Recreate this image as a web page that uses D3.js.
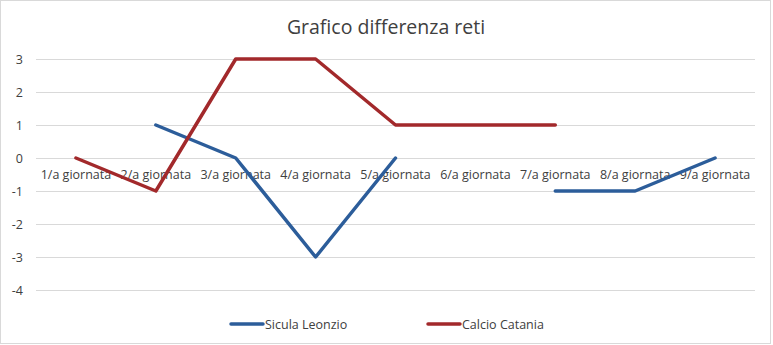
<!doctype html>
<html>
<head>
<meta charset="utf-8">
<script src="https://cdn.jsdelivr.net/npm/d3@7"></script>
<style>
  body { margin: 0; background: #fff; }
  svg text { font-family: "Open Sans", "Noto Sans", sans-serif; }
</style>
</head>
<body>
<svg id="chart" width="773" height="345"></svg>
<script>
  // data
  var categories = ['1/a giornata', '2/a giornata', '3/a giornata', '4/a giornata', '5/a giornata',
    '6/a giornata', '7/a giornata', '8/a giornata', '9/a giornata'];
  var siculaLeonzio = [null, 1, 0, -3, 0, null, -1, -1, 0];
  var calcioCatania = [0, -1, 3, 3, 1, 1, 1, null, null];
  var yTicks = [3, 2, 1, 0, -1, -2, -3, -4];
  var seriesNames = ['Sicula Leonzio', 'Calcio Catania'];
  var seriesColors = ['#2c5d9a', '#a2292b'];

  var svg = d3.select('#chart');
  var textColor = '#404040';

  // chart border
  svg.append('rect')
    .attr('x', 0.5).attr('y', 0.5)
    .attr('width', 770).attr('height', 343)
    .attr('fill', '#fff').attr('stroke', '#d9d9d9');

  svg.append('text')
    .attr('x', 386).attr('y', 34)
    .attr('text-anchor', 'middle')
    .attr('font-size', 19.5)
    .attr('fill', textColor)
    .text('Grafico differenza reti');

  var x = d3.scaleBand().domain(categories).range([36, 755]);
  var y = d3.scaleLinear().domain([-4, 3]).range([290, 59]);

  // gridlines
  svg.append('g').selectAll('line')
    .data(yTicks)
    .enter().append('line')
    .attr('x1', 36).attr('x2', 755)
    .attr('y1', function (d) { return Math.round(y(d)) + 0.5; })
    .attr('y2', function (d) { return Math.round(y(d)) + 0.5; })
    .attr('stroke', '#d9d9d9');

  // y axis labels (plain hyphen minus like Excel)
  var yAxis = svg.append('g')
    .attr('transform', 'translate(23,0)')
    .call(d3.axisLeft(y).tickValues(yTicks).tickFormat(function (d) { return String(d); })
      .tickSize(0).tickPadding(0));
  yAxis.select('.domain').remove();
  yAxis.selectAll('text')
    .attr('font-size', 12.5)
    .attr('fill', textColor)
    .attr('font-family', '"Open Sans", "Noto Sans", sans-serif');

  // category labels sit just under the zero line
  var xAxis = svg.append('g')
    .attr('transform', 'translate(0,' + (y(0) + 12) + ')')
    .call(d3.axisBottom(x).tickSize(0).tickPadding(0));
  xAxis.select('.domain').remove();
  xAxis.selectAll('text')
    .attr('font-size', 12.5)
    .attr('fill', textColor)
    .attr('font-family', '"Open Sans", "Noto Sans", sans-serif');

  var line = d3.line()
    .defined(function (d) { return d !== null; })
    .x(function (d, i) { return x(categories[i]) + x.bandwidth() / 2; })
    .y(function (d) { return y(d); });

  [siculaLeonzio, calcioCatania].forEach(function (values, k) {
    svg.append('path')
      .datum(values)
      .attr('d', line)
      .attr('fill', 'none')
      .attr('stroke', seriesColors[k])
      .attr('stroke-width', 3.5)
      .attr('stroke-linejoin', 'round')
      .attr('stroke-linecap', 'round');
  });

  // legend
  var legendX = [231, 428];
  var legend = svg.append('g').selectAll('g')
    .data(seriesNames)
    .enter().append('g')
    .attr('transform', function (d, i) { return 'translate(' + legendX[i] + ',324)'; });
  legend.append('line')
    .attr('x1', 0).attr('x2', 32)
    .attr('stroke', function (d, i) { return seriesColors[i]; })
    .attr('stroke-width', 3.5)
    .attr('stroke-linecap', 'round');
  legend.append('text')
    .attr('x', 34).attr('y', 4.5)
    .attr('font-size', 12.5)
    .attr('fill', textColor)
    .text(function (d) { return d; });
</script>
</body>
</html>
